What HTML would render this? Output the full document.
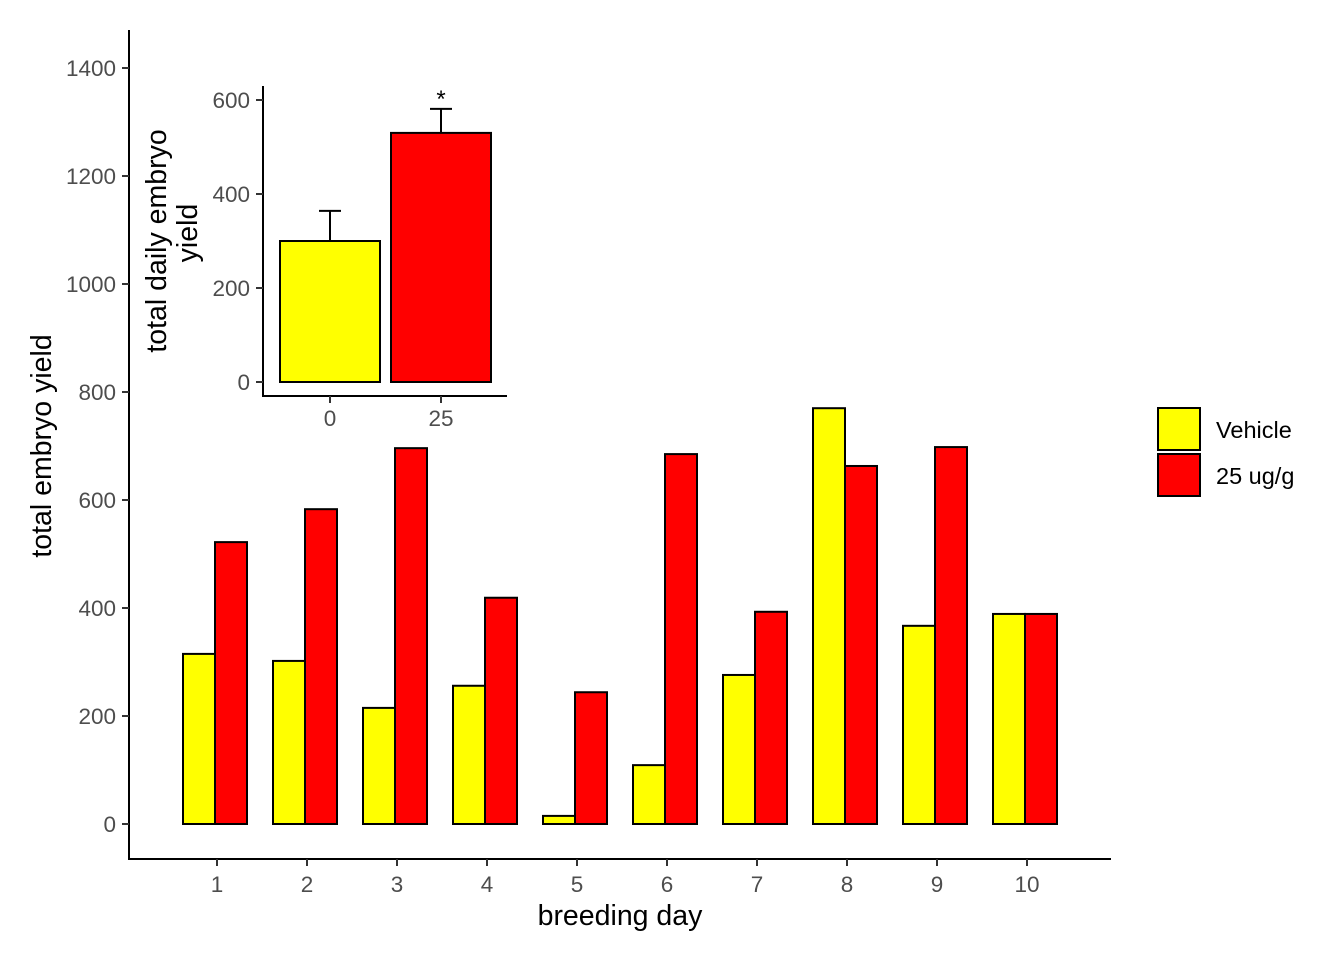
<!DOCTYPE html>
<html><head><meta charset="utf-8"><style>body{margin:0;background:#fff}svg{display:block;font-family:"Liberation Sans",Arial,sans-serif}</style></head>
<body>
<svg id="c" width="1344" height="960" xmlns="http://www.w3.org/2000/svg"></svg>
<script>
const days=["1","2","3","4","5","6","7","8","9","10"];
const vehicle=[315,302,215,256,15,109,276,770,367,389];
const treated=[522,583,696,419,244,685,393,663,698,389];
const yTicks=[0,200,400,600,800,1000,1200,1400];
const insetCats=["0","25"];
const insetMeans=[300,530];
const insetErr=[364,581];
const insetTicks=[0,200,400,600];
const NS="http://www.w3.org/2000/svg";
const svg=document.getElementById("c");
function el(t,a,txt){const e=document.createElementNS(NS,t);for(const k in a)e.setAttribute(k,a[k]);if(txt!==undefined)e.textContent=txt;svg.appendChild(e);return e;}
const y=v=>824-v*0.54;
const x=i=>217+i*90;
let a=el("line",{x1:129,y1:30,x2:129,y2:860,stroke:"#000","stroke-width":2});


a=el("line",{x1:128,y1:859,x2:1111,y2:859,stroke:"#000","stroke-width":2});


yTicks.forEach(v=>{
 el("line",{x1:122,y1:y(v),x2:129,y2:y(v),stroke:"#333","stroke-width":2});
 const t=el("text",{x:116,y:y(v)+8,"text-anchor":"end","font-size":22.5,fill:"#4d4d4d"},v);
 
 
});
days.forEach((d,i)=>{
 el("line",{x1:x(i),y1:859,x2:x(i),y2:866,stroke:"#333","stroke-width":2});
 const t=el("text",{x:x(i),y:892,"text-anchor":"middle","font-size":22.5,fill:"#4d4d4d"},d);
 
 
 let b=el("rect",{x:x(i)-34,y:y(vehicle[i]),width:32,height:y(0)-y(vehicle[i]),fill:"#ffff00",stroke:"#000","stroke-width":2});
 
 
 b=el("rect",{x:x(i)-2,y:y(treated[i]),width:32,height:y(0)-y(treated[i]),fill:"#ff0000",stroke:"#000","stroke-width":2});
 
 
});
let t=el("text",{x:620,y:925,"text-anchor":"middle","font-size":28.5},"breeding day");

t=el("text",{x:0,y:0,"text-anchor":"middle","font-size":28.5,transform:"translate(51,446) rotate(-90)"},"total embryo yield");

[["Vehicle","#ffff00",408],["25 ug/g","#ff0000",454]].forEach(([n,c,yy])=>{
 const r=el("rect",{x:1158,y:yy,width:42,height:42,fill:c,stroke:"#000","stroke-width":2});
 
 const tx=el("text",{x:1216,y:yy+30,"font-size":23.5},n);
 
});
const r0=el("rect",{x:131,y:70,width:384,height:374,fill:"#fff"});

const iy=v=>382-v*0.47;
const ix=i=>330+i*111;
a=el("line",{x1:263,y1:86,x2:263,y2:397,stroke:"#000","stroke-width":2});

a=el("line",{x1:262,y1:396,x2:507,y2:396,stroke:"#000","stroke-width":2});

insetTicks.forEach(v=>{
 el("line",{x1:256,y1:iy(v),x2:263,y2:iy(v),stroke:"#333","stroke-width":2});
 const tt=el("text",{x:250,y:iy(v)+8,"text-anchor":"end","font-size":22.5,fill:"#4d4d4d"},v);
 
});
insetCats.forEach((c,i)=>{
 el("line",{x1:ix(i),y1:396,x2:ix(i),y2:403,stroke:"#333","stroke-width":2});
 const tt=el("text",{x:ix(i),y:426,"text-anchor":"middle","font-size":22.5,fill:"#4d4d4d"},c);
 
 el("line",{x1:ix(i),y1:iy(insetMeans[i]),x2:ix(i),y2:iy(insetErr[i]),stroke:"#000","stroke-width":2});
 el("line",{x1:ix(i)-11,y1:iy(insetErr[i]),x2:ix(i)+11,y2:iy(insetErr[i]),stroke:"#000","stroke-width":2});
 const b=el("rect",{x:ix(i)-50,y:iy(insetMeans[i]),width:100,height:iy(0)-iy(insetMeans[i]),fill:i?"#ff0000":"#ffff00",stroke:"#000","stroke-width":2});
 
});
t=el("text",{x:441,y:107,"text-anchor":"middle","font-size":24},"*");

t=el("text",{x:0,y:0,"text-anchor":"middle","font-size":28.5,transform:"translate(166,241) rotate(-90)"},"total daily embryo");

t=el("text",{x:0,y:0,"text-anchor":"middle","font-size":28.5,transform:"translate(197,233) rotate(-90)"},"yield");

</script>
</body></html>
